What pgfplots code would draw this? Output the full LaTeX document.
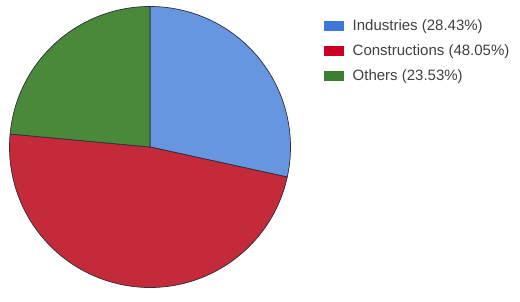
\documentclass[border=0pt]{standalone}
\usepackage{pgfplots}
\usepackage{pgfplotstable}
\pgfplotsset{compat=1.18}
\usepackage{fontspec}
\setmainfont{Liberation Sans}
\definecolor{indS}{RGB}{101,150,223}
\definecolor{conS}{RGB}{197,42,59}
\definecolor{othS}{RGB}{74,136,58}
\definecolor{indL}{RGB}{59,120,218}
\definecolor{conL}{RGB}{204,0,34}
\definecolor{othL}{RGB}{61,127,50}
\definecolor{edge}{RGB}{45,45,60}
\definecolor{txt}{RGB}{64,64,64}
\pgfplotstableread{
label value
Industries 28.43
Constructions 48.05
Others 23.53
}\piedata
\begin{document}
\begin{tikzpicture}
\pgfplotstablegetelem{0}{value}\of\piedata \let\vA\pgfplotsretval
\pgfplotstablegetelem{1}{value}\of\piedata \let\vB\pgfplotsretval
\pgfplotstablegetelem{2}{value}\of\piedata \let\vC\pgfplotsretval
\pgfmathsetmacro\tot{\vA+\vB+\vC}
\pgfmathsetmacro\aA{90}
\pgfmathsetmacro\aB{\aA-\vA/\tot*360}
\pgfmathsetmacro\aC{\aB-\vB/\tot*360}
\pgfmathsetmacro\aD{\aC-\vC/\tot*360}
\begin{axis}[
  x=1bp, y=1bp,
  xmin=0, xmax=520, ymin=0, ymax=292,
  hide axis, clip=false,
  scale only axis,
]
\path (axis cs:0,0) rectangle (axis cs:520,292);
\fill[indS, draw=edge, line width=0.7bp, line join=round] (axis cs:150,145) -- ([shift={(\aA:140.5bp)}]axis cs:150,145) arc[start angle=\aA, end angle=\aB, radius=140.5bp] -- cycle;
\fill[conS, draw=edge, line width=0.7bp, line join=round] (axis cs:150,145) -- ([shift={(\aB:140.5bp)}]axis cs:150,145) arc[start angle=\aB, end angle=\aC, radius=140.5bp] -- cycle;
\fill[othS, draw=edge, line width=0.7bp, line join=round] (axis cs:150,145) -- ([shift={(\aC:140.5bp)}]axis cs:150,145) arc[start angle=\aC, end angle=\aD, radius=140.5bp] -- cycle;
% legend
\fill[indL] (axis cs:324,261.3) rectangle (axis cs:344,270.7);
\fill[conL] (axis cs:324,236.3) rectangle (axis cs:344,245.7);
\fill[othL] (axis cs:324,211.3) rectangle (axis cs:344,220.7);
\node[anchor=base west, inner sep=0pt, text=txt, font=\fontsize{15bp}{18bp}\selectfont] at (axis cs:352.5,261.3) {Industries (28.43\%)};
\node[anchor=base west, inner sep=0pt, text=txt, font=\fontsize{15bp}{18bp}\selectfont] at (axis cs:352.5,236.3) {Constructions (48.05\%)};
\node[anchor=base west, inner sep=0pt, text=txt, font=\fontsize{15bp}{18bp}\selectfont] at (axis cs:352.5,211.3) {Others (23.53\%)};
\end{axis}
\end{tikzpicture}
\end{document}
